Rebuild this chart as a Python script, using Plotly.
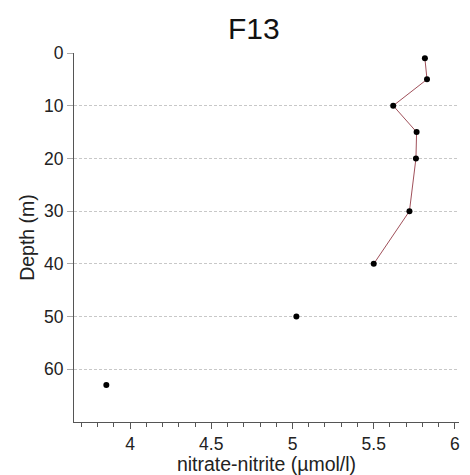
import plotly.graph_objects as go

depth = [1, 5, 10, 15, 20, 30, 40, 50, 63]
nitrate = [5.815, 5.828, 5.62, 5.764, 5.76, 5.72, 5.50, 5.024, 3.854]
line_depth = [1, 5, 10, 15, 20, 30, 40]
line_nitrate = [5.815, 5.828, 5.62, 5.764, 5.76, 5.72, 5.50]

y_ticks = [0, 10, 20, 30, 40, 50, 60]
x_ticks = [4, 4.5, 5, 5.5, 6]

fig = go.Figure()
fig.add_trace(go.Scatter(x=line_nitrate, y=line_depth, mode="lines",
                         line=dict(color="#a0505a", width=1), showlegend=False))
fig.add_trace(go.Scatter(x=nitrate, y=depth, mode="markers",
                         marker=dict(color="black", size=6), showlegend=False))

fig.update_layout(
    width=470, height=475,
    margin=dict(l=74, r=11, t=53, b=53),
    paper_bgcolor="white", plot_bgcolor="white",
    font=dict(family="Liberation Sans, Arial, sans-serif", color="#222", size=16),
    title=dict(text="F13", x=0.54, xanchor="center", y=0.94, yanchor="middle",
               font=dict(size=30, color="#111")),
    xaxis=dict(range=[3.655, 6.025], tickvals=x_ticks, ticktext=[str(v) for v in x_ticks],
               showgrid=False, zeroline=False, showline=True, linecolor="#555",
               ticks="outside", ticklen=6, tickcolor="#555", automargin=False,
               minor=dict(dtick=0.1, tick0=0, ticks="outside", ticklen=4, tickcolor="#555", showgrid=False),
               title=dict(text="nitrate-nitrite (µmol/l)", standoff=0, font=dict(size=19.5)),
               tickfont=dict(size=17.5)),
    yaxis=dict(range=[70, 0], tickvals=y_ticks, showgrid=True, gridcolor="#c8c8c8",
               griddash="3px,2px", gridwidth=1, zeroline=False, showline=True, linecolor="#555",
               ticks="outside", ticklen=6, tickcolor="#aaa", automargin=False,
               title=dict(text="Depth (m)", standoff=4, font=dict(size=19.5)),
               tickfont=dict(size=17.5)),
)

fig.write_html("out.html", config={"displayModeBar": False},
               post_script="document.body.style.margin='0';document.body.style.overflow='hidden';")
